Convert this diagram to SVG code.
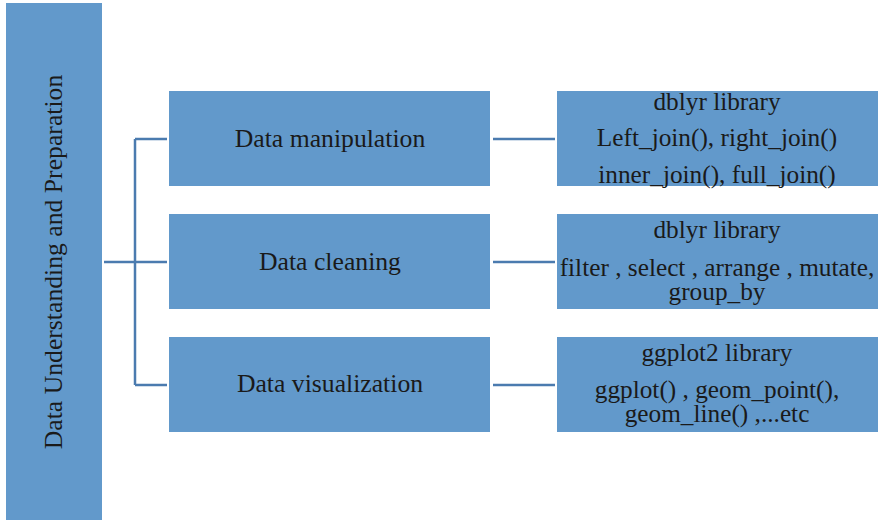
<svg xmlns="http://www.w3.org/2000/svg" width="879" height="520" viewBox="0 0 879 520">
<style>
.box{fill:#6299CB;}
.t{fill:#1a1a1a;text-anchor:middle;}
.m{font-size:25.7px;}
.r{font-size:25.3px;}
.c{fill:none;stroke:#4B7BAF;stroke-width:2.5;}
</style>
<rect width="879" height="520" fill="#ffffff"/>
<g font-family="Liberation Serif, DejaVu Serif, serif">
<g id="root">
<rect class="box" x="6" y="3" width="96" height="517"/>
<text class="t m" transform="translate(62,262) rotate(-90)">Data Understanding and Preparation</text>
</g>
<g id="connectors">
<path class="c" d="M104,262 H167 M135,139 V385 M135,139 H167 M135,385 H167"/>
<path class="c" d="M493,139 H555 M493,262 H555 M493,385 H555"/>
</g>
<g id="manip">
<rect class="box" x="169" y="91" width="321" height="95"/>
<text class="t m" x="330" y="147">Data manipulation</text>
</g>
<g id="clean">
<rect class="box" x="169" y="214" width="321" height="95"/>
<text class="t m" x="330" y="270">Data cleaning</text>
</g>
<g id="vis">
<rect class="box" x="169" y="337" width="321" height="95"/>
<text class="t m" x="330" y="392">Data visualization</text>
</g>
<g id="lib1">
<rect class="box" x="557" y="91" width="321" height="95"/>
<text class="t r" x="717" y="110">dblyr library</text>
<text class="t r" x="717" y="146">Left_join(), right_join()</text>
<text class="t r" x="717" y="183">inner_join(), full_join()</text>
</g>
<g id="lib2">
<rect class="box" x="557" y="214" width="321" height="95"/>
<text class="t r" x="717" y="238">dblyr library</text>
<text class="t r" x="717" y="276">filter , select , arrange , mutate,</text>
<text class="t r" x="717" y="300">group_by</text>
</g>
<g id="lib3">
<rect class="box" x="557" y="337" width="321" height="95"/>
<text class="t r" x="717" y="361">ggplot2 library</text>
<text class="t r" x="717" y="398">ggplot() , geom_point(),</text>
<text class="t r" x="717" y="422">geom_line() ,...etc</text>
</g>
</g>
</svg>
